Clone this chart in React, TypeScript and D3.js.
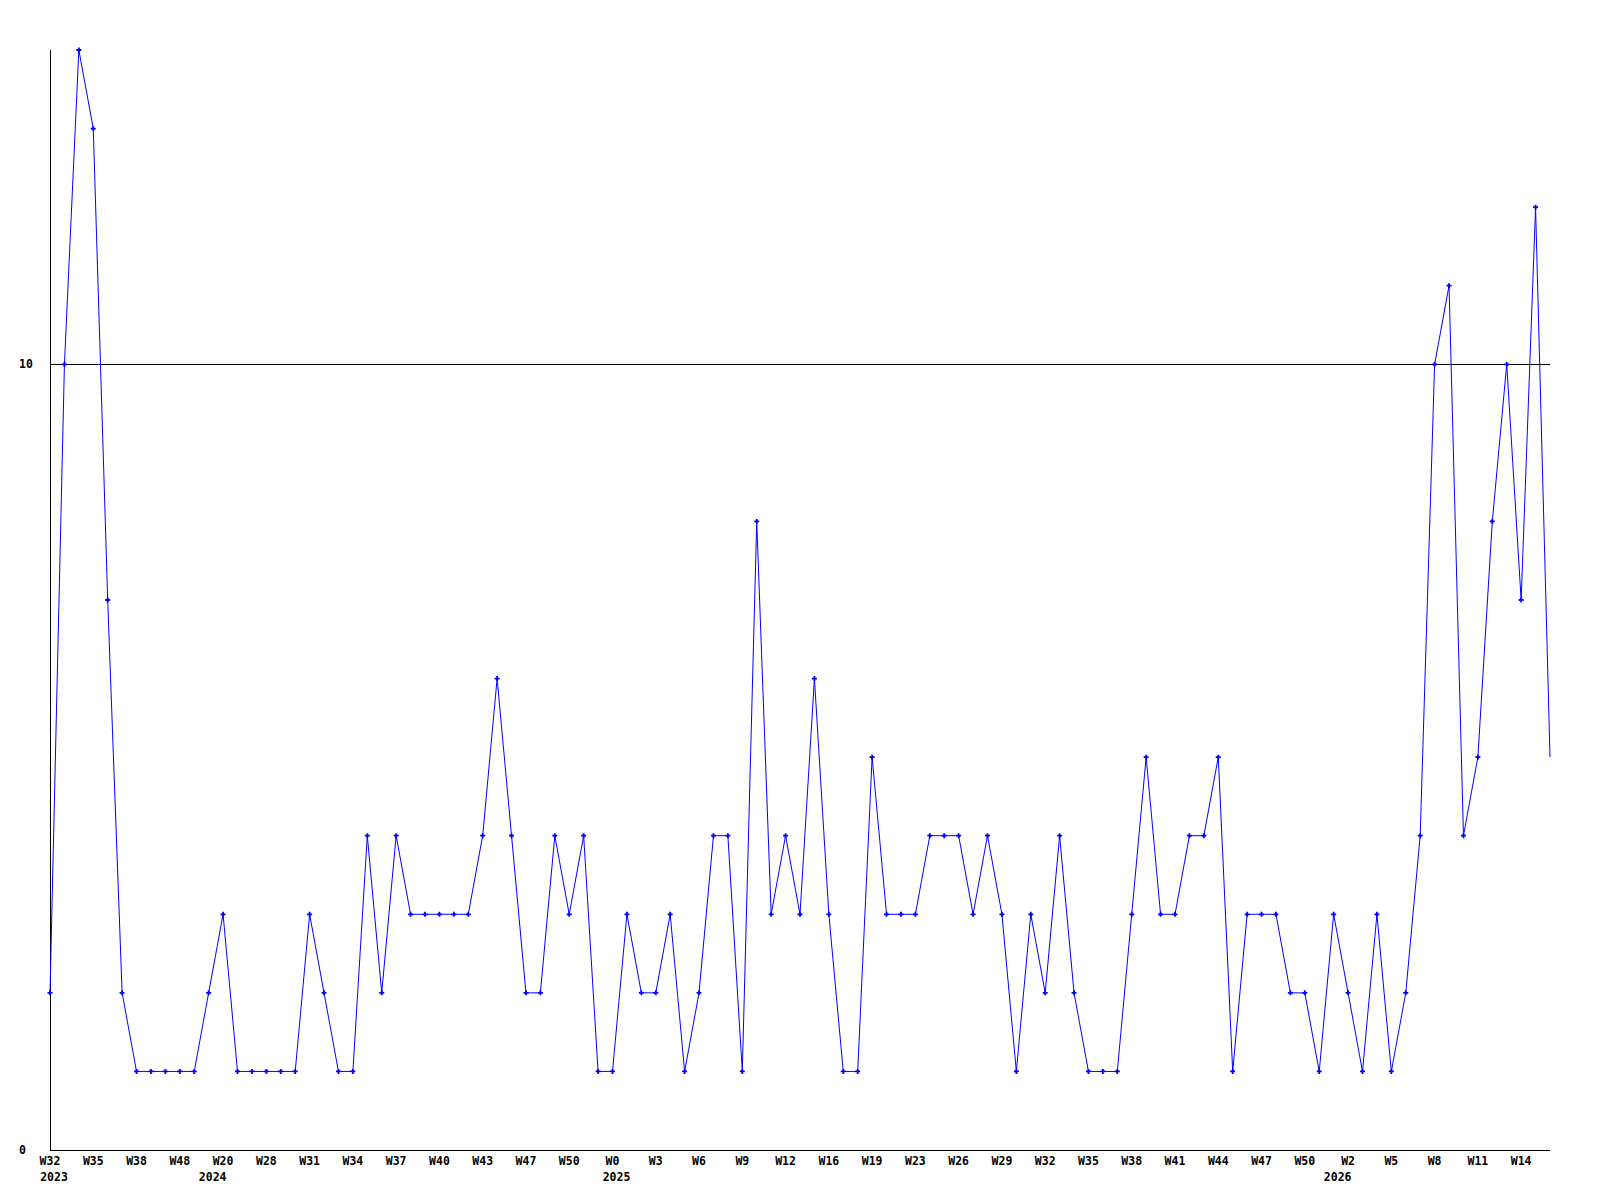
import { useEffect, useRef } from "react";
import * as d3 from "d3";

// weekly values, one per point (last point is the current, unmarked week)
const values = [
  2, 10, 14, 13, 7, 2, 1, 1, 1, 1, 1, 2, 3, 1, 1, 1, 1, 1, 3, 2, 1, 1, 4, 2, 4,
  3, 3, 3, 3, 3, 4, 6, 4, 2, 2, 4, 3, 4, 1, 1, 3, 2, 2, 3, 1, 2, 4, 4, 1, 8, 3,
  4, 3, 6, 3, 1, 1, 5, 3, 3, 3, 4, 4, 4, 3, 4, 3, 1, 3, 2, 4, 2, 1, 1, 1, 3, 5,
  3, 3, 4, 4, 5, 1, 3, 3, 3, 2, 2, 1, 3, 2, 1, 3, 1, 2, 4, 10, 11, 4, 5, 8, 10,
  7, 12, 5,
];

// week tick labels, one on every third point
const weekTicks = [
  "W32", "W35", "W38", "W48", "W20", "W28", "W31", "W34", "W37", "W40", "W43",
  "W47", "W50", "W0", "W3", "W6", "W9", "W12", "W16", "W19", "W23", "W26",
  "W29", "W32", "W35", "W38", "W41", "W44", "W47", "W50", "W2", "W5", "W8",
  "W11", "W14",
];
const tickEvery = 3;

// year labels and the index of the first point of that year
const years = ["2023", "2024", "2025", "2026"];
const yearStart = [0, 11, 39, 89];

const yTicks = [0, 10];
const yMax = 14;

export default function App() {
  const svgRef = useRef<SVGSVGElement | null>(null);

  useEffect(() => {
    if (!svgRef.current) return;
    const svg = d3.select(svgRef.current);
    svg.selectAll("*").remove();

    const W = 1600;
    const H = 1200;
    const margin = { top: 50, right: 50, bottom: 50, left: 50 };
    const font = "'DejaVu Sans Mono', 'Liberation Mono', monospace";
    const fs = 11.5;

    const x = d3
      .scaleLinear()
      .domain([0, values.length - 1])
      .range([margin.left, W - margin.right]);
    const y = d3
      .scaleLinear()
      .domain([0, yMax])
      .range([H - margin.bottom, margin.top]);

    const g = svg.append("g").attr("shape-rendering", "crispEdges");

    // gridlines (except the zero line, which is the axis)
    yTicks
      .filter((t) => t !== 0)
      .forEach((t) => {
        g.append("line")
          .attr("x1", x(0))
          .attr("x2", x(values.length - 1))
          .attr("y1", Math.round(y(t)) + 0.5)
          .attr("y2", Math.round(y(t)) + 0.5)
          .attr("stroke", "#000");
      });

    // axes
    g.append("line")
      .attr("x1", x(0) + 0.5)
      .attr("x2", x(0) + 0.5)
      .attr("y1", y(yMax))
      .attr("y2", y(0))
      .attr("stroke", "#000");
    g.append("line")
      .attr("x1", x(0))
      .attr("x2", x(values.length - 1))
      .attr("y1", y(0) + 0.5)
      .attr("y2", y(0) + 0.5)
      .attr("stroke", "#000");

    // y labels
    svg
      .selectAll("text.ylab")
      .data(yTicks)
      .join("text")
      .attr("class", "ylab")
      .attr("x", 19)
      .attr("y", (d) => y(d) + 4)
      .attr("font-family", font)
      .attr("font-weight", "bold")
      .attr("font-size", fs)
      .text((d) => String(d));

    // week labels
    svg
      .selectAll("text.wk")
      .data(weekTicks)
      .join("text")
      .attr("class", "wk")
      .attr("x", (_, i) => x(i * tickEvery))
      .attr("y", H - margin.bottom + 15)
      .attr("text-anchor", "middle")
      .attr("font-family", font)
      .attr("font-weight", "bold")
      .attr("font-size", fs)
      .text((d) => d);

    // year labels
    svg
      .selectAll("text.yr")
      .data(years)
      .join("text")
      .attr("class", "yr")
      .attr("x", (_, i) => x(yearStart[i]) + 4)
      .attr("y", H - margin.bottom + 31)
      .attr("text-anchor", "middle")
      .attr("font-family", font)
      .attr("font-weight", "bold")
      .attr("font-size", fs)
      .text((d) => d);

    // series line
    const line = d3
      .line<number>()
      .x((_, i) => x(i))
      .y((d) => y(d));
    svg
      .append("path")
      .datum(values)
      .attr("d", line)
      .attr("fill", "none")
      .attr("stroke", "#0000ff")
      .attr("stroke-width", 1);

    // point markers (all but the last, unfinished week)
    const pts = values.slice(0, -1);
    const mk = svg.append("g").attr("stroke", "#0000ff").attr("stroke-width", 1.8);
    pts.forEach((d, i) => {
      const cx = x(i);
      const cy = y(d);
      mk.append("path").attr("d", `M${cx - 2.5},${cy}H${cx + 2.5}M${cx},${cy - 2.5}V${cy + 2.5}`);
    });
  }, []);

  return (
    <svg
      ref={svgRef}
      width={1600}
      height={1200}
      style={{ position: "absolute", left: 0, top: 0, background: "#fff" }}
    />
  );
}
